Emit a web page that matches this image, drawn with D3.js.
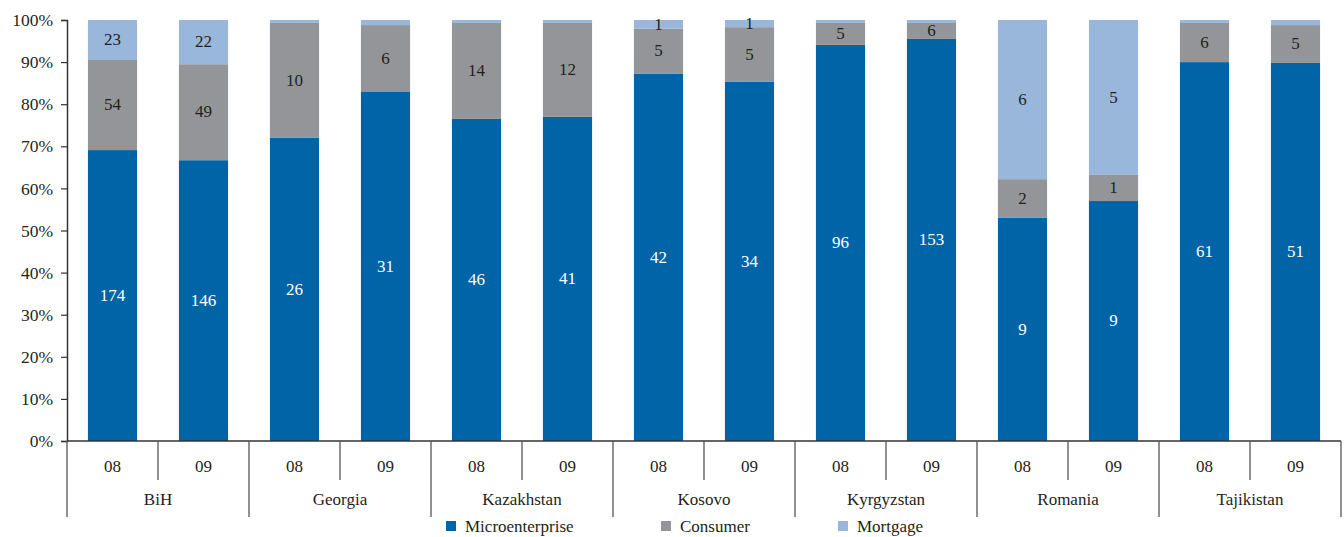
<!DOCTYPE html>
<html>
<head>
<meta charset="utf-8">
<script src="https://cdn.jsdelivr.net/npm/d3@7/dist/d3.min.js"></script>
<style>
  body { margin: 0; background: #fff; }
  svg text { font-family: "Liberation Serif", "DejaVu Serif", "Times New Roman", serif !important; }
</style>
</head>
<body>
<script>
// data ==============================================================
var countries = ["BiH", "Georgia", "Kazakhstan", "Kosovo", "Kyrgyzstan", "Romania", "Tajikistan"];
var years = ["08", "09"];
var seriesNames = ["Microenterprise", "Consumer", "Mortgage"];

// share of portfolio, % (bar heights), one entry per country-year
var microPct    = [69.1, 66.7, 72.0, 82.9, 76.5, 77.0, 87.2, 85.3, 94.1, 95.5, 53.0, 57.0, 90.0, 89.8];
var consumerPct = [21.4, 22.8, 27.3, 15.9, 22.8, 22.3, 10.7, 13.0,  5.2,  3.8,  9.2,  6.2,  9.3,  9.0];
var mortgagePct = [ 9.5, 10.5,  0.7,  1.2,  0.7,  0.7,  2.1,  1.7,  0.7,  0.7, 37.8, 36.8,  0.7,  1.2];

// numbers printed inside segments (null = no label)
var microLabels    = [174, 146, 26, 31, 46, 41, 42, 34, 96, 153, 9, 9, 61, 51];
var consumerLabels = [54, 49, 10, 6, 14, 12, 5, 5, 5, 6, 2, 1, 6, 5];
var mortgageLabels = [23, 22, null, null, null, null, 1, 1, null, null, 6, 5, null, null];

var yTicks = [0, 10, 20, 30, 40, 50, 60, 70, 80, 90, 100];
// ===================================================================

var colors = { Microenterprise: "#0064a6", Consumer: "#949598", Mortgage: "#99b7db" };
var textColors = { Microenterprise: "#ffffff", Consumer: "#231f20", Mortgage: "#231f20" };
var fontFam = "'Liberation Serif', 'DejaVu Serif', serif";

var width = 1344, height = 537;
var margin = { left: 67, right: 3, top: 20, bottom: 96 };

var rows = [];
countries.forEach((c, ci) => {
  years.forEach((yr, yi) => {
    var i = ci * years.length + yi;
    rows.push({
      key: c + "-" + yr, country: c, year: yr,
      Microenterprise: microPct[i], Consumer: consumerPct[i], Mortgage: mortgagePct[i],
      labels: { Microenterprise: microLabels[i], Consumer: consumerLabels[i], Mortgage: mortgageLabels[i] }
    });
  });
});

var stacked = d3.stack().keys(seriesNames)(rows);

var x = d3.scaleBand()
  .domain(rows.map(d => d.key))
  .range([margin.left, width - margin.right])
  .paddingInner(0.46)
  .paddingOuter(0.23);

var y = d3.scaleLinear()
  .domain([0, 100])
  .range([height - margin.bottom, margin.top]);

var svg = d3.select("body").append("svg")
  .attr("width", width)
  .attr("height", height)
  .attr("font-family", fontFam);

// bars
var layers = svg.selectAll("g.layer")
  .data(stacked)
  .enter().append("g")
  .attr("class", "layer")
  .attr("fill", d => colors[d.key]);

layers.selectAll("rect")
  .data(d => d)
  .enter().append("rect")
  .attr("x", d => x(d.data.key))
  .attr("width", x.bandwidth())
  .attr("y", d => y(Math.min(100, d[1])))
  .attr("height", d => y(d[0]) - y(Math.min(100, d[1])));

// segment labels
stacked.forEach(layer => {
  svg.append("g").selectAll("text")
    .data(layer.filter(d => d.data.labels[layer.key] != null))
    .enter().append("text")
    .attr("x", d => x(d.data.key) + x.bandwidth() / 2)
    .attr("y", d => y((d[0] + Math.min(100, d[1])) / 2))
    .attr("dy", "0.3em")
    .attr("text-anchor", "middle")
    .attr("font-size", "17px")
    .attr("fill", textColors[layer.key])
    .text(d => d.data.labels[layer.key]);
});

// y axis
var yAxis = d3.axisLeft(y)
  .tickValues(yTicks)
  .tickFormat(d => d + "%")
  .tickSize(6)
  .tickPadding(8);

var yG = svg.append("g")
  .attr("transform", "translate(" + margin.left + ",0)")
  .call(yAxis)
  .attr("font-family", fontFam);
yG.select(".domain").attr("stroke", "#333").attr("stroke-width", 1.5);
yG.selectAll(".tick line").attr("stroke", "#333").attr("stroke-width", 1.2);
yG.selectAll(".tick text")
  .attr("font-size", "17.5px")
  .attr("fill", "#231f20");

// x axis (two-level categories)
var base = y(0);
var step = x.step();
var gx = svg.append("g");

gx.append("line")
  .attr("x1", margin.left).attr("x2", width - margin.right)
  .attr("y1", base).attr("y2", base)
  .attr("stroke", "#333").attr("stroke-width", 1.5);

// year labels
gx.selectAll("text.year")
  .data(rows)
  .enter().append("text")
  .attr("class", "year")
  .attr("x", d => x(d.key) + x.bandwidth() / 2)
  .attr("y", base + 31)
  .attr("text-anchor", "middle")
  .attr("font-size", "17px")
  .attr("fill", "#231f20")
  .text(d => d.year);

// separators: short between years, long between countries
rows.forEach((d, i) => {
  if (i === 0) return;
  var sx = margin.left + i * step;
  var long = i % years.length === 0;
  gx.append("line")
    .attr("x1", sx).attr("x2", sx)
    .attr("y1", base).attr("y2", base + (long ? 76 : 39))
    .attr("stroke", "#555").attr("stroke-width", 1.3);
});
[margin.left, width - margin.right].forEach(sx => {
  gx.append("line")
    .attr("x1", sx).attr("x2", sx)
    .attr("y1", base).attr("y2", base + 76)
    .attr("stroke", "#555").attr("stroke-width", 1.3);
});

// country labels
gx.selectAll("text.country")
  .data(countries)
  .enter().append("text")
  .attr("class", "country")
  .attr("x", (d, i) => margin.left + (i + 0.5) * step * years.length)
  .attr("y", base + 64)
  .attr("text-anchor", "middle")
  .attr("font-size", "17px")
  .attr("fill", "#231f20")
  .text(d => d);

// legend
var legendX = [446, 661, 838];
var legend = svg.append("g").selectAll("g")
  .data(seriesNames)
  .enter().append("g")
  .attr("transform", (d, i) => "translate(" + legendX[i] + "," + 521 + ")");

legend.append("rect")
  .attr("width", 10).attr("height", 10)
  .attr("fill", d => colors[d]);

legend.append("text")
  .attr("x", 19)
  .attr("y", 11)
  .attr("font-size", "17px")
  .attr("fill", "#231f20")
  .text(d => d);
</script>
</body>
</html>
